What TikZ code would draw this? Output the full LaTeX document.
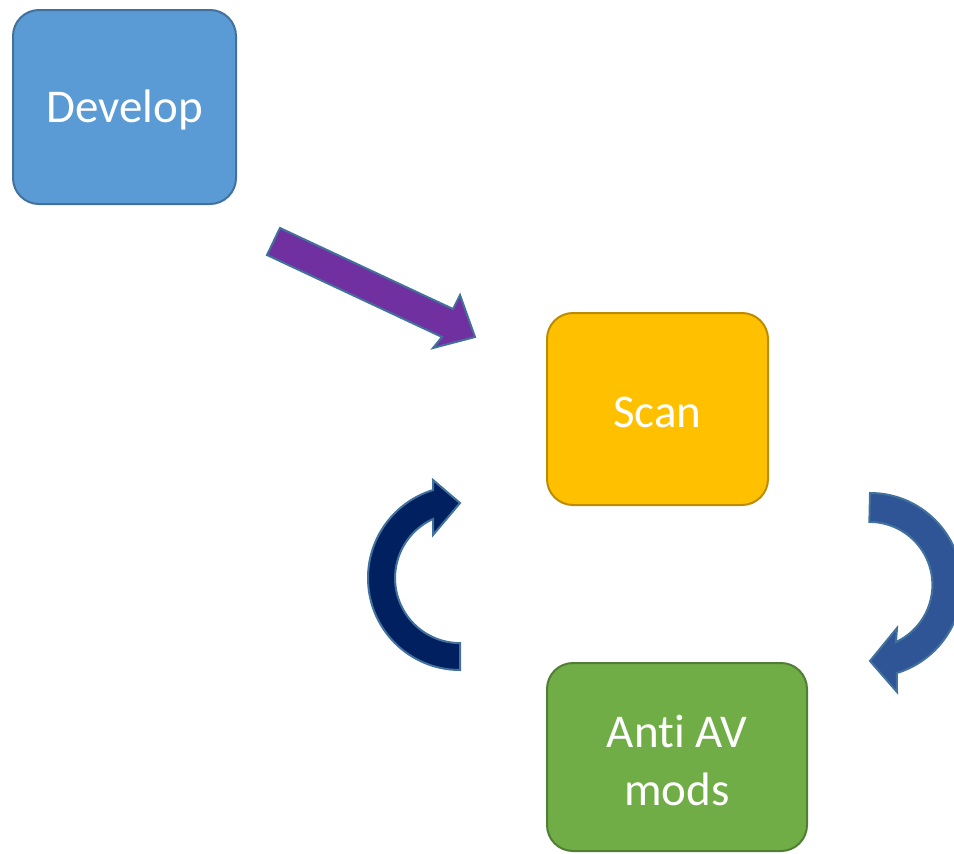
\documentclass[tikz,border=0pt]{standalone}
\usepackage{fontspec}
\setmainfont{Carlito}[Ligatures=NoCommon]
\definecolor{devfill}{HTML}{5B9BD5}
\definecolor{devline}{HTML}{41719C}
\definecolor{scanfill}{HTML}{FFC000}
\definecolor{scanline}{HTML}{BC8C00}
\definecolor{antifill}{HTML}{70AD47}
\definecolor{antiline}{HTML}{507E32}
\definecolor{arrowpurple}{HTML}{7030A0}
\definecolor{arrownavy}{HTML}{002060}
\definecolor{arrowblue}{HTML}{2F5597}
\definecolor{arrowedge}{HTML}{41719C}
\begin{document}
\begin{tikzpicture}[x=1pt,y=-1pt,
  box/.style={rounded corners=26pt, line width=2pt, inner sep=0pt},
  boxtext/.style={text=white, font=\fontsize{47}{58}\selectfont,
    align=center, inner sep=0pt, yshift=-3pt},
  blockarrow/.style={line width=2pt, draw=arrowedge, line join=miter}]
\useasboundingbox (0,0) rectangle (954,854);
\clip (0,0) rectangle (954,854);

% process steps
\node[box, fill=devfill, draw=devline, minimum width=223pt, minimum height=194pt,
  label={[boxtext]center:Develop}] (develop) at (124.5,107) {};
\node[box, fill=scanfill, draw=scanline, minimum width=221pt, minimum height=192pt,
  label={[boxtext]center:Scan}] (scan) at (657.5,409) {};
\node[box, fill=antifill, draw=antiline, minimum width=260pt, minimum height=188pt,
  label={[boxtext]center:Anti AV\\mods}] (anti) at (677,757) {};

% straight block arrow from Develop towards Scan
\draw[blockarrow, fill=arrowpurple]
  (280,228) -- (453,309) -- (460,295) -- (475,337) -- (433,348)
  -- (442,337) -- (267,255) -- cycle;

% circular arrow from Anti AV mods back up to Scan
\draw[blockarrow, fill=arrownavy]
  (460,670) arc[start angle=90, end angle=253, radius=92]
  -- (433,480) -- (460,503) -- (433,535) -- (433,519)
  arc[start angle=245.4, end angle=90, radius=65] -- cycle;

% circular arrow from Scan down to Anti AV mods
\draw[blockarrow, fill=arrowblue]
  (870,493) arc[start angle=-90, end angle=73, radius=92]
  -- (897,692) -- (870,661) -- (897,628) -- (896,642)
  arc[start angle=65, end angle=-90, radius=63] -- cycle;
\end{tikzpicture}
\end{document}
